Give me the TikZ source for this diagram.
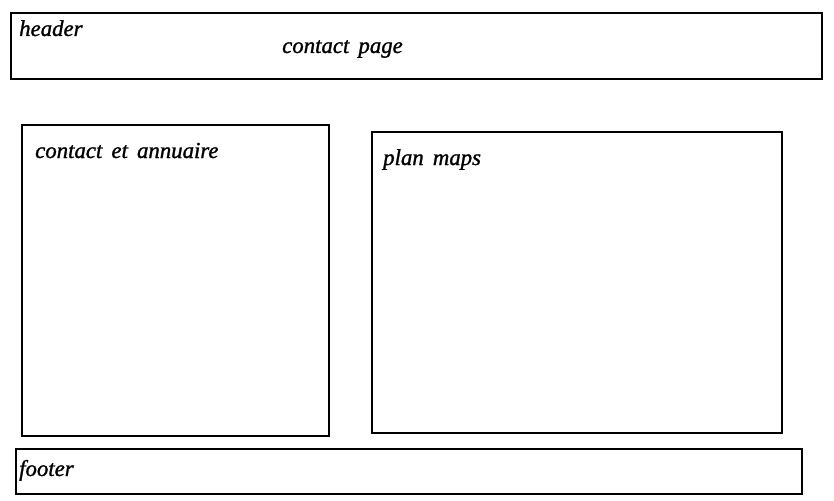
\documentclass[tikz,border=0pt]{standalone}
\usepackage{fontspec}
\setmainfont{Liberation Serif}[WordSpace=1.6,ItalicFeatures={FakeBold=1.2}]
\begin{document}
\begin{tikzpicture}[x=1pt,y=-1pt,
  panel/.style={draw=black,line width=2pt},
  lbl/.style={anchor=base west,inner sep=0pt,font=\fontsize{22.8}{26}\selectfont\itshape}]
\useasboundingbox (0,0) rectangle (834,500);
\draw[panel] (11,13) rectangle (822,79) coordinate (hdr);
\draw[panel] (22,125) rectangle (329,436) coordinate (lft);
\draw[panel] (372,132) rectangle (782,433) coordinate (rgt);
\draw[panel] (16,449) rectangle (802,494) coordinate (ftr);
\node[lbl] (theader) at (19,36) {header};
\node[lbl] (ttitle) at (282,53) {contact page};
\node[lbl] (tcontact) at (35,158) {contact et annuaire};
\node[lbl] (tplan) at (383,165) {plan maps};
\node[lbl] (tfooter) at (19,476) {footer};
\end{tikzpicture}
\end{document}
